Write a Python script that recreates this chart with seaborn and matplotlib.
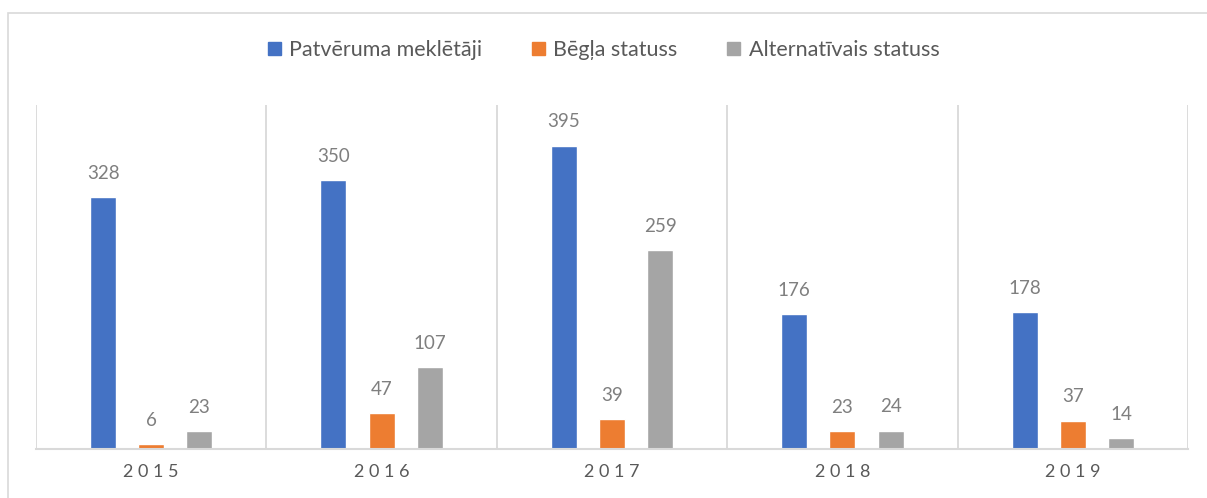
import pandas as pd
import matplotlib.pyplot as plt
import seaborn as sns
from matplotlib.patches import Rectangle

# Data
years = ['2015', '2016', '2017', '2018', '2019']
series_names = ['Patvēruma meklētāji', 'Bēgļa statuss', 'Alternatīvais statuss']
asylum = [328, 350, 395, 176, 178]
refugee = [6, 47, 39, 23, 37]
alternative = [23, 107, 259, 24, 14]
colors = ['#4472C4', '#ED7D31', '#A5A5A5']

df = pd.DataFrame({
    'year': years * 3,
    'series': [series_names[0]] * 5 + [series_names[1]] * 5 + [series_names[2]] * 5,
    'value': asylum + refugee + alternative,
})

sns.set_style("white")
plt.rcParams['font.family'] = ['Lato', 'DejaVu Sans']

W, H = 1207, 498
fig = plt.figure(figsize=(W / 100, H / 100), dpi=100)
ax = fig.add_axes([36 / W, (H - 449) / H, (1188 - 36) / W, (449 - 105) / H])

sns.barplot(data=df, x='year', y='value', hue='series', hue_order=series_names,
            palette=colors, width=0.627, gap=0.46, ax=ax, legend=False,
            saturation=1)

ax.set_ylim(0, 448)
ax.set_xlim(-0.5, 4.5)
ax.set_xlabel('')
ax.set_ylabel('')
ax.set_yticks([])

# value labels
for cont in ax.containers:
    ax.bar_label(cont, padding=11, fontsize=13.5, color='#7f7f7f')

# category separators
for x in [-0.5, 0.5, 1.5, 2.5, 3.5, 4.5]:
    ax.axvline(x, color='#d9d9d9', lw=1.3, zorder=0)

for s in ['top', 'right', 'left']:
    ax.spines[s].set_visible(False)
ax.spines['bottom'].set_color('#d9d9d9')
ax.spines['bottom'].set_linewidth(1.5)

ax.set_xticks(range(len(years)))
ax.set_xticklabels([' '.join(y) for y in years], fontsize=13, color='#595959')
ax.tick_params(axis='x', length=0, pad=11)

# legend
handles = [Rectangle((0, 0), 1, 1, color=c) for c in colors]
fig.legend(handles, series_names, loc='center', bbox_to_anchor=(0.5, 1 - 50 / H),
           ncol=3, frameon=False, fontsize=15.5, handlelength=0.6, handleheight=0.6,
           handletextpad=0.4, columnspacing=2.3, labelcolor='#595959')

# chart border
fig.add_artist(Rectangle((8 / W, -0.1), 1.2, 1 - 13 / H + 0.1, transform=fig.transFigure,
                         fill=False, edgecolor='#d9d9d9', lw=1.2))

fig.savefig('out.png', dpi=100)
